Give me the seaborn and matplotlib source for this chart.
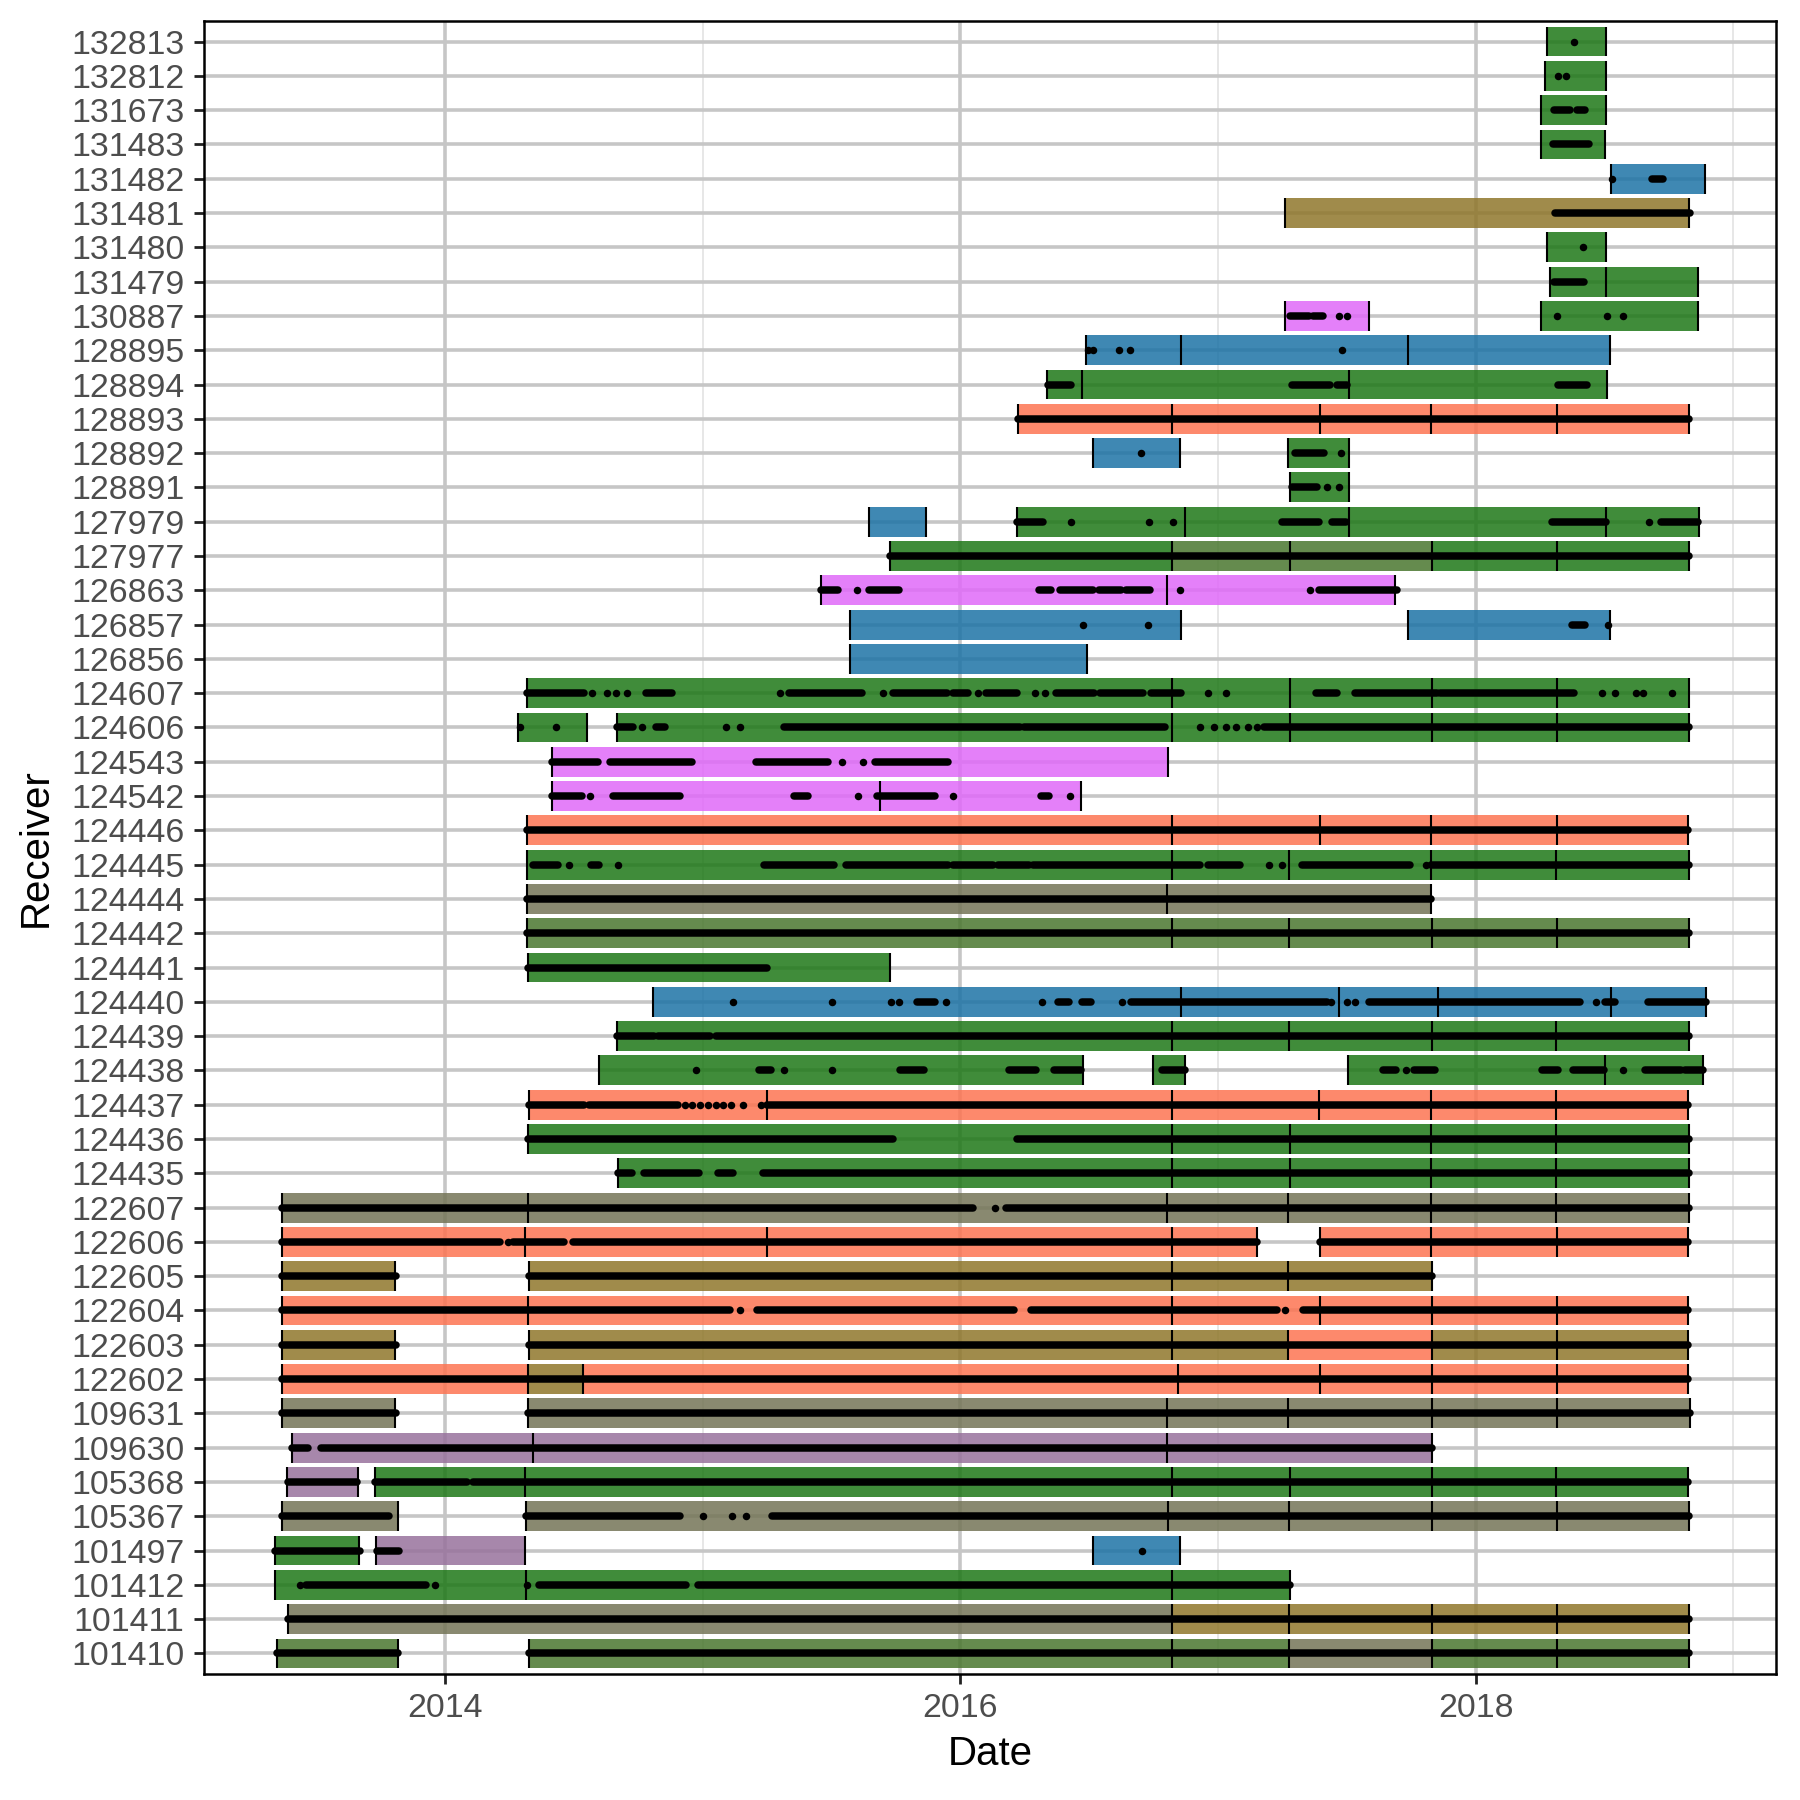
"""Receiver deployment timeline: coloured deployment bars, deployment
breaks as black ticks, detections as black dots / dense runs."""
import matplotlib
matplotlib.use("Agg")
import matplotlib.pyplot as plt
import numpy as np
import pandas as pd
import seaborn as sns

# receivers, top to bottom as they appear on the y axis
receivers = [
    "132813", "132812", "131673", "131483", "131482", "131481", "131480",
    "131479", "130887", "128895", "128894", "128893", "128892", "128891",
    "127979", "127977", "126863", "126857", "126856", "124607", "124606",
    "124543", "124542", "124446", "124445", "124444", "124442", "124441",
    "124440", "124439", "124438", "124437", "124436", "124435", "122607",
    "122606", "122605", "122604", "122603", "122602", "109631", "109630",
    "105368", "105367", "101497", "101412", "101411", "101410",
]

# deployment fill per group letter (drawn with alpha so the grid shows through)
palette = {
    "G": "#1E7817",  # green
    "S": "#FD7452",  # salmon
    "B": "#1D73A6",  # blue
    "V": "#E06AF9",  # violet
    "O": "#8F772B",  # olive brown
    "T": "#747557",  # grey olive
    "P": "#98729C",  # grey purple
    "D": "#4A772F",  # dark olive green
}

# (receiver, break dates in decimal years, group of each piece between breaks)
deployments = [
    ("132813", [2018.277, 2018.505], "G"),
    ("132812", [2018.268, 2018.505], "G"),
    ("131673", [2018.255, 2018.505], "G"),
    ("131483", [2018.255, 2018.503], "G"),
    ("131482", [2018.525, 2018.891], "B"),
    ("131481", [2017.26, 2018.826], "O"),
    ("131480", [2018.276, 2018.505], "G"),
    ("131479", [2018.288, 2018.504, 2018.864], "GG"),
    ("130887", [2017.26, 2017.585], "V"),
    ("130887", [2018.252, 2018.864], "G"),
    ("128895", [2016.487, 2016.855, 2017.737, 2018.521], "BBB"),
    ("128894", [2016.336, 2016.472, 2017.508, 2018.509], "GGG"),
    ("128893", [2016.225, 2016.823, 2017.394, 2017.827, 2018.314, 2018.826], "SSSSS"),
    ("128892", [2016.514, 2016.853], "B"),
    ("128892", [2017.273, 2017.508], "G"),
    ("128891", [2017.28, 2017.508], "G"),
    ("127979", [2015.644, 2015.867], "B"),
    ("127979", [2016.218, 2016.873, 2017.508, 2018.507, 2018.865], "GGGG"),
    ("127977", [2015.728, 2016.821, 2017.278, 2017.832, 2018.314, 2018.826], "GDDGG"),
    ("126863", [2015.459, 2016.803, 2017.688], "VV"),
    ("126857", [2015.57, 2016.855], "B"),
    ("126857", [2017.738, 2018.522], "B"),
    ("126856", [2015.57, 2016.49], "B"),
    ("124607", [2014.32, 2016.821, 2017.278, 2017.832, 2018.314, 2018.826], "GGGGG"),
    ("124606", [2014.284, 2014.551], "G"),
    ("124606", [2014.666, 2016.821, 2017.278, 2017.83, 2018.314, 2018.826], "GGGGG"),
    ("124543", [2014.414, 2016.806], "V"),
    ("124542", [2014.414, 2015.69, 2016.468], "VV"),
    ("124446", [2014.32, 2016.822, 2017.395, 2017.827, 2018.315, 2018.825], "SSSSS"),
    ("124445", [2014.32, 2016.822, 2017.275, 2017.827, 2018.311, 2018.826], "GGGGG"),
    ("124444", [2014.32, 2016.803, 2017.827], "TT"),
    ("124442", [2014.32, 2016.822, 2017.275, 2017.83, 2018.315, 2018.826], "DDDDD"),
    ("124441", [2014.323, 2015.727], "G"),
    ("124440", [2014.808, 2016.855, 2017.471, 2017.852, 2018.525, 2018.892], "BBBBB"),
    ("124439", [2014.667, 2016.822, 2017.276, 2017.83, 2018.311, 2018.828], "GGGGG"),
    ("124438", [2014.597, 2016.475], "G"),
    ("124438", [2016.747, 2016.871], "G"),
    ("124438", [2017.506, 2018.502, 2018.88], "GG"),
    ("124437", [2014.328, 2015.249, 2016.82, 2017.393, 2017.825, 2018.313, 2018.822], "SSSSSS"),
    ("124436", [2014.324, 2016.82, 2017.278, 2017.828, 2018.313, 2018.828], "GGGGG"),
    ("124435", [2014.671, 2016.821, 2017.278, 2017.828, 2018.313, 2018.828], "GGGGG"),
    ("122607", [2013.367, 2014.324, 2016.80, 2017.273, 2017.828, 2018.313, 2018.828], "TTTTTT"),
    ("122606", [2013.367, 2014.311, 2015.249, 2016.823, 2017.153], "SSSS"),
    ("122606", [2017.394, 2017.826, 2018.315, 2018.825], "SSS"),
    ("122605", [2013.367, 2013.808], "O"),
    ("122605", [2014.327, 2016.823, 2017.273, 2017.829], "OOO"),
    ("122604", [2013.367, 2014.324, 2016.823, 2017.394, 2017.829, 2018.315, 2018.825], "SSSSSS"),
    ("122603", [2013.367, 2013.808], "O"),
    ("122603", [2014.327, 2016.823, 2017.273, 2017.829, 2018.315, 2018.825], "OOSOO"),
    ("122602", [2013.367, 2014.324, 2014.536, 2016.845, 2017.394, 2017.829, 2018.315, 2018.825], "SOSSSSS"),
    ("109631", [2013.367, 2013.808], "T"),
    ("109631", [2014.324, 2016.801, 2017.273, 2017.829, 2018.315, 2018.83], "TTTTT"),
    ("109630", [2013.407, 2014.341, 2016.801, 2017.829], "PPP"),
    ("105368", [2013.386, 2013.661], "P"),
    ("105368", [2013.727, 2014.311, 2016.82, 2017.278, 2017.83, 2018.313, 2018.825], "GGGGGG"),
    ("105367", [2013.368, 2013.816], "T"),
    ("105367", [2014.315, 2016.804, 2017.276, 2017.831, 2018.316, 2018.827], "TTTTT"),
    ("101497", [2013.341, 2013.665], "G"),
    ("101497", [2013.732, 2014.31], "P"),
    ("101497", [2016.516, 2016.853], "B"),
    ("101412", [2013.341, 2014.315, 2016.82, 2017.278], "GGG"),
    ("101411", [2013.39, 2016.82, 2017.276, 2017.831, 2018.316, 2018.827], "TOOOO"),
    ("101410", [2013.35, 2013.816], "D"),
    ("101410", [2014.326, 2016.82, 2017.276, 2017.831, 2018.316, 2018.827], "DDTDD"),
]

# stretches with detections so dense they merge into a line: (receiver, from, to)
det_runs = [
    ("131673", 2018.304, 2018.364), ("131673", 2018.394, 2018.425),
    ("131483", 2018.30, 2018.438),
    ("131482", 2018.684, 2018.727),
    ("131481", 2018.307, 2018.831),
    ("131479", 2018.304, 2018.421),
    ("130887", 2017.279, 2017.351), ("130887", 2017.369, 2017.407),
    ("128894", 2016.34, 2016.43), ("128894", 2017.285, 2017.435),
    ("128894", 2017.46, 2017.50), ("128894", 2018.32, 2018.43),
    ("128893", 2016.225, 2018.826),
    ("128892", 2017.30, 2017.41),
    ("128891", 2017.286, 2017.384),
    ("127979", 2016.218, 2016.32), ("127979", 2017.248, 2017.392),
    ("127979", 2017.441, 2017.498), ("127979", 2018.294, 2018.504),
    ("127979", 2018.72, 2018.863),
    ("127977", 2015.728, 2018.826),
    ("126863", 2015.459, 2015.525), ("126863", 2015.644, 2015.76),
    ("126863", 2016.304, 2016.35), ("126863", 2016.386, 2016.514),
    ("126863", 2016.539, 2016.625), ("126863", 2016.643, 2016.737),
    ("126863", 2017.392, 2017.696),
    ("126857", 2018.373, 2018.423),
    ("124607", 2014.32, 2014.54), ("124607", 2014.78, 2014.88),
    ("124607", 2015.335, 2015.62), ("124607", 2015.74, 2015.95),
    ("124607", 2015.97, 2016.03), ("124607", 2016.10, 2016.22),
    ("124607", 2016.37, 2016.52), ("124607", 2016.54, 2016.71),
    ("124607", 2016.74, 2016.855), ("124607", 2017.38, 2017.46),
    ("124607", 2017.53, 2017.85), ("124607", 2017.86, 2018.38),
    ("124606", 2014.666, 2014.731), ("124606", 2014.818, 2014.853),
    ("124606", 2015.314, 2016.23), ("124606", 2016.248, 2016.794),
    ("124606", 2017.18, 2018.828),
    ("124543", 2014.414, 2014.593), ("124543", 2014.641, 2014.957),
    ("124543", 2015.208, 2015.485), ("124543", 2015.667, 2015.953),
    ("124542", 2014.414, 2014.532), ("124542", 2014.653, 2014.913),
    ("124542", 2015.355, 2015.41), ("124542", 2015.676, 2015.90),
    ("124542", 2016.312, 2016.343),
    ("124446", 2014.32, 2018.825),
    ("124445", 2014.341, 2014.437), ("124445", 2014.567, 2014.596),
    ("124445", 2015.237, 2015.51), ("124445", 2015.555, 2015.953),
    ("124445", 2015.97, 2016.126), ("124445", 2016.145, 2016.266),
    ("124445", 2016.283, 2016.93), ("124445", 2016.96, 2017.087),
    ("124445", 2017.327, 2017.745), ("124445", 2017.825, 2018.828),
    ("124444", 2014.32, 2017.827),
    ("124442", 2014.32, 2018.826),
    ("124441", 2014.323, 2015.25),
    ("124440", 2015.832, 2015.90), ("124440", 2016.378, 2016.421),
    ("124440", 2016.473, 2016.508), ("124440", 2016.664, 2017.424),
    ("124440", 2017.584, 2018.403), ("124440", 2018.50, 2018.54),
    ("124440", 2018.668, 2018.892),
    ("124439", 2014.667, 2014.81), ("124439", 2014.825, 2015.03),
    ("124439", 2015.05, 2018.828),
    ("124438", 2015.218, 2015.264), ("124438", 2015.765, 2015.857),
    ("124438", 2016.19, 2016.293), ("124438", 2016.363, 2016.469),
    ("124438", 2016.784, 2016.871), ("124438", 2017.639, 2017.69),
    ("124438", 2017.76, 2017.84), ("124438", 2018.257, 2018.321),
    ("124438", 2018.377, 2018.498), ("124438", 2018.658, 2018.795),
    ("124438", 2018.81, 2018.883),
    ("124437", 2014.328, 2014.54), ("124437", 2014.56, 2014.903),
    ("124437", 2015.249, 2018.822),
    ("124436", 2014.324, 2015.737), ("124436", 2016.219, 2018.828),
    ("124435", 2014.671, 2014.727), ("124435", 2014.773, 2014.986),
    ("124435", 2015.06, 2015.116), ("124435", 2015.236, 2018.828),
    ("122607", 2013.367, 2016.048), ("122607", 2016.178, 2018.828),
    ("122606", 2013.367, 2014.215), ("122606", 2014.263, 2014.462),
    ("122606", 2014.497, 2017.153), ("122606", 2017.394, 2018.825),
    ("122605", 2013.367, 2013.81), ("122605", 2014.327, 2017.829),
    ("122604", 2013.367, 2015.107), ("122604", 2015.21, 2016.21),
    ("122604", 2016.275, 2017.227), ("122604", 2017.33, 2018.825),
    ("122603", 2013.367, 2013.81), ("122603", 2014.327, 2018.825),
    ("122602", 2013.367, 2018.825),
    ("109631", 2013.367, 2013.81), ("109631", 2014.324, 2018.83),
    ("109630", 2013.407, 2013.467), ("109630", 2013.519, 2017.829),
    ("105368", 2013.39, 2013.66), ("105368", 2013.727, 2014.087),
    ("105368", 2014.107, 2018.825),
    ("105367", 2013.368, 2013.783), ("105367", 2014.315, 2014.913),
    ("105367", 2015.268, 2018.827),
    ("101497", 2013.341, 2013.672), ("101497", 2013.738, 2013.82),
    ("101412", 2013.461, 2013.927), ("101412", 2014.364, 2014.936),
    ("101412", 2014.98, 2017.278),
    ("101411", 2013.39, 2018.827),
    ("101410", 2013.35, 2013.816), ("101410", 2014.326, 2018.827),
]

# isolated detections: (receiver, date)
det_points = [
    ("132813", 2018.382),
    ("132812", 2018.321), ("132812", 2018.350),
    ("131482", 2018.53),
    ("131480", 2018.416),
    ("130887", 2017.468), ("130887", 2017.499), ("130887", 2018.317),
    ("130887", 2018.508), ("130887", 2018.572),
    ("128895", 2016.495), ("128895", 2016.513), ("128895", 2016.617),
    ("128895", 2016.657), ("128895", 2017.481),
    ("128892", 2016.70), ("128892", 2017.478),
    ("128891", 2017.424), ("128891", 2017.468),
    ("127979", 2016.43), ("127979", 2016.732), ("127979", 2016.826),
    ("127979", 2018.672),
    ("126863", 2015.60), ("126863", 2016.853), ("126863", 2017.355),
    ("126857", 2016.477), ("126857", 2016.729), ("126857", 2018.512),
    ("124607", 2014.57), ("124607", 2014.63), ("124607", 2014.665),
    ("124607", 2014.705), ("124607", 2015.30), ("124607", 2015.70),
    ("124607", 2016.07), ("124607", 2016.29), ("124607", 2016.33),
    ("124607", 2016.96), ("124607", 2017.03), ("124607", 2018.49),
    ("124607", 2018.54), ("124607", 2018.62), ("124607", 2018.65),
    ("124607", 2018.76),
    ("124606", 2014.29), ("124606", 2014.43), ("124606", 2014.763),
    ("124606", 2015.092), ("124606", 2015.144), ("124606", 2016.93),
    ("124606", 2016.985), ("124606", 2017.03), ("124606", 2017.07),
    ("124606", 2017.115), ("124606", 2017.15),
    ("124543", 2015.542), ("124543", 2015.624),
    ("124542", 2014.562), ("124542", 2015.601), ("124542", 2015.97),
    ("124542", 2016.425),
    ("124445", 2014.48), ("124445", 2014.67), ("124445", 2017.199),
    ("124445", 2017.247), ("124445", 2017.806),
    ("124440", 2015.116), ("124440", 2015.503), ("124440", 2015.731),
    ("124440", 2015.763), ("124440", 2015.945), ("124440", 2016.317),
    ("124440", 2016.629), ("124440", 2017.44), ("124440", 2017.50),
    ("124440", 2017.53), ("124440", 2018.467),
    ("124438", 2014.973), ("124438", 2015.316), ("124438", 2015.50),
    ("124438", 2017.73), ("124438", 2018.573),
    ("124437", 2014.93), ("124437", 2014.96), ("124437", 2014.99),
    ("124437", 2015.02), ("124437", 2015.05), ("124437", 2015.08),
    ("124437", 2015.11), ("124437", 2015.158), ("124437", 2015.227),
    ("122607", 2016.135),
    ("122606", 2014.246),
    ("122604", 2015.144), ("122604", 2017.259),
    ("105367", 2015.002), ("105367", 2015.113), ("105367", 2015.168),
    ("101497", 2016.704),
    ("101412", 2013.439), ("101412", 2013.96), ("101412", 2014.32),
]

BAR_H = 0.87
ALPHA = 0.85
DOT = 2.7  # detection dot / run thickness in points

# y position: first receiver in the list sits at the top
ypos = {r: len(receivers) - 1 - i for i, r in enumerate(receivers)}

# one row per deployment piece, one row per break tick
pieces, breaks = [], []
for rec, br, groups in deployments:
    for start, end, g in zip(br[:-1], br[1:], groups):
        pieces.append({"y": ypos[rec], "start": start, "end": end, "group": g})
    for b in br:
        breaks.append({"y": ypos[rec], "date": b})
pieces = pd.DataFrame(pieces)
breaks = pd.DataFrame(breaks)

runs = pd.DataFrame(det_runs, columns=["receiver", "start", "end"])
runs["y"] = runs["receiver"].map(ypos)
points = pd.DataFrame(det_points, columns=["receiver", "date"])
points["y"] = points["receiver"].map(ypos)

sns.set_theme(style="white")
plt.rcParams["font.family"] = ["Liberation Sans", "DejaVu Sans"]

fig = plt.figure(figsize=(9, 9), dpi=200)
ax = fig.add_axes([204 / 1800, 1 - 1674 / 1800, 1572 / 1800, 1653 / 1800])

# deployments
ax.barh(pieces["y"], pieces["end"] - pieces["start"], left=pieces["start"],
        height=BAR_H, color=pieces["group"].map(palette), alpha=ALPHA,
        linewidth=0, zorder=2)
ax.vlines(breaks["date"], breaks["y"] - BAR_H / 2, breaks["y"] + BAR_H / 2,
          color="black", linewidth=0.75, zorder=3)

# detections
ax.hlines(runs["y"], runs["start"], runs["end"], color="black",
          linewidth=DOT, capstyle="round", zorder=4)
sns.scatterplot(data=points, x="date", y="y", color="black", s=DOT ** 2,
                linewidth=0, ax=ax, legend=False, zorder=5)

ax.set_xlim(2013.065, 2019.165)
ax.set_ylim(-0.6, len(receivers) - 0.4)
ax.set_xticks([2014, 2016, 2018])
ax.set_xticks([2015, 2017, 2019], minor=True)
ax.set_xticklabels(["2014", "2016", "2018"])
ax.set_yticks([ypos[r] for r in receivers])
ax.set_yticklabels(receivers)

ax.set_axisbelow(True)
ax.grid(which="major", color="#C6C6C6", linewidth=1.3)
ax.grid(which="minor", axis="x", color="#E3E3E3", linewidth=0.6)

ax.tick_params(which="major", direction="out", length=3.5, width=1.0,
               color="#222222", labelsize=12.2, labelcolor="#4D4D4D", pad=3.5,
               left=True, bottom=True)
ax.tick_params(which="minor", length=0)
for sp in ax.spines.values():
    sp.set_visible(True)
    sp.set_color("black")
    sp.set_linewidth(0.9)

ax.set_xlabel("Date", fontsize=14.5, color="black", va="center")
ax.set_ylabel("Receiver", fontsize=14.5, color="black", va="center")
ax.xaxis.set_label_coords(0.5, -0.0484)
ax.yaxis.set_label_coords(-0.107, 0.5)

fig.savefig("out.png", dpi=200)
plt.close(fig)
